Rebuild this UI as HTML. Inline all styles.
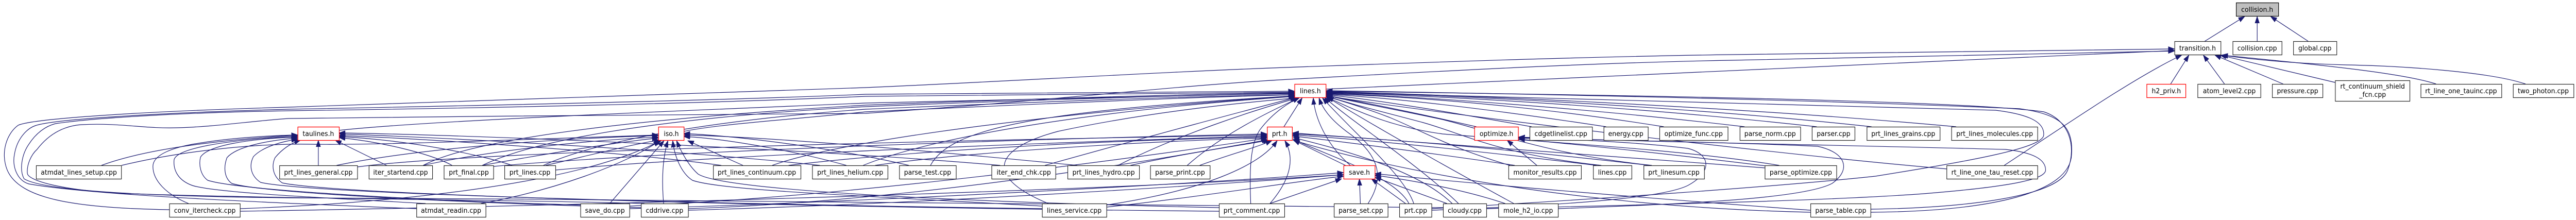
<!DOCTYPE html>
<html><head><meta charset="utf-8"><style>
html,body{margin:0;padding:0;background:#fff;overflow:hidden;width:100%;height:100%;}
svg{display:block;position:fixed;left:0;top:0;width:100vw;height:100vh;}
text{font-family:"DejaVu Sans","Liberation Sans",sans-serif;font-size:13.33px;fill:#000;text-anchor:middle;}
.n{fill:#fff;stroke:#222;stroke-width:1.2;}
.r{fill:#fff;stroke:#ff0000;stroke-width:1.3;}
.g{fill:#bfbfbf;stroke:#000;stroke-width:1.2;}
</style></head><body>
<svg viewBox="0 0 5357 427" preserveAspectRatio="none" xmlns="http://www.w3.org/2000/svg">
<defs><marker id="a" viewBox="0 0 13 10" markerWidth="13" markerHeight="10" refX="13" refY="5" orient="auto" markerUnits="userSpaceOnUse"><path d="M0,0.4 L13,5 L0,9.6 Z" fill="#191970" stroke="#191970" stroke-width="0.8"/></marker></defs>
<rect width="5357" height="427" fill="#fff"/>
<g fill="none" stroke="#191970" stroke-width="1.2" marker-end="url(#a)">
<path d="M4585,80 L4668,32"/>
<path d="M4694,80 L4694,32"/>
<path d="M4800,80 L4722,32"/>
<path d="M4514,163 L4552,107"/>
<path d="M4626,163 L4582,107"/>
<path d="M4748,163 L4606,107"/>
<path d="M4856,160 L4617,107"/>
<path d="M5066,163 C5000,143 4850,128 4620,107"/>
<path d="M5252,163 C5180,140 5000,128 4880,126 C4760,123 4680,115 4620,107"/>
<path d="M4168,321 C4300,240 4440,150 4537,107"/>
<path d="M2757,173 L4522,98"/>
<path d="M352,407 C150,404 40,385 15,330 C0,295 15,258 38,243 C70,230 300,216 600,208 C1100,195 1500,182 1800,170 C2100,158 2400,140 2700,130 C3000,120 3300,110 3600,106 C4000,101 4300,97 4522,95"/>
<path d="M1340,395 C1100,388 500,385 250,375 C120,368 60,350 57,337 C55,320 65,300 77,290 C100,262 130,245 168,242 C250,238 300,250 368,248 C450,246 520,235 600,230 C1000,225 1500,222 1800,220 C2200,195 2450,165 2700,153 C3000,138 3300,122 3600,117 C4000,108 4300,101 4522,99"/>
<path d="M866,405 C600,395 200,380 60,357 C35,350 25,322 30,300 C35,270 55,250 73,244 C110,232 300,220 600,212 C1000,205 1500,195 1800,183 C2200,180 2500,178 2692,177"/>
<path d="M3001,403 C2500,394 1500,388 600,384 C300,381 90,370 50,347 C40,330 45,300 60,280 C75,258 95,245 115,240 C200,228 400,218 600,215 C1000,210 1500,200 1800,187 C2200,182 2500,180 2692,179"/>
<path d="M705,253 C900,233 1500,212 1800,200 C2200,190 2500,183 2692,181"/>
<path d="M1422,255 C1500,240 1650,232 1800,217 C2200,200 2500,188 2692,184"/>
<path d="M1003,321 C1150,255 1500,222 1800,207 C2200,192 2500,184 2692,182"/>
<path d="M1130,321 C1250,270 1500,232 1800,212 C2200,196 2500,186 2693,184"/>
<path d="M880,321 C1000,262 1400,226 1800,204 C2200,190 2500,182 2692,180"/>
<path d="M1606,321 C1750,272 2200,218 2693,186"/>
<path d="M1795,321 C1950,262 2300,212 2694,187"/>
<path d="M1935,321 C1975,250 2150,215 2694,186"/>
<path d="M2173,321 C2400,262 2600,212 2696,189"/>
<path d="M2325,321 C2450,262 2600,216 2699,190"/>
<path d="M2469,321 C2540,262 2640,216 2702,190"/>
<path d="M2180,395 C2050,345 2060,290 2200,255 C2400,215 2600,198 2697,190"/>
<path d="M2601,395 C2598,330 2600,280 2620,252 C2650,215 2685,197 2702,190"/>
<path d="M2670,246 L2708,190"/>
<path d="M2808,321 C2760,282 2735,232 2731,190"/>
<path d="M2845,395 C2880,345 2870,300 2800,255 C2765,230 2750,210 2743,190"/>
<path d="M2940,395 C2920,340 2820,262 2750,190"/>
<path d="M3033,395 C2950,320 2820,242 2754,189"/>
<path d="M3148,395 C3000,320 2850,240 2757,187"/>
<path d="M3140,321 C3010,285 2960,255 2890,228 C2840,210 2795,197 2758,187"/>
<path d="M3330,321 C3120,300 3050,262 2960,238 C2880,218 2800,200 2758,186"/>
<path d="M3435,321 C3220,300 3100,255 3000,232 C2900,212 2800,195 2758,185"/>
<path d="M3700,321 C3500,290 3200,275 3000,260 C2880,245 2800,205 2760,189"/>
<path d="M3070,246 C2950,220 2820,196 2758,185"/>
<path d="M3185,246 C3000,215 2850,192 2758,184"/>
<path d="M3340,246 C3100,212 2900,190 2758,183"/>
<path d="M3460,246 C3200,207 2950,188 2758,182"/>
<path d="M3628,246 C3300,210 2950,187 2758,181"/>
<path d="M3778,246 C3400,207 3000,186 2758,180"/>
<path d="M3892,246 C3500,206 3000,184 2758,179"/>
<path d="M4068,246 C3600,206 3000,183 2758,178"/>
<path d="M4050,328 C3700,300 3000,222 2758,186"/>
<path d="M3890,406 C4100,403 4280,380 4300,330 C4320,280 4300,232 4250,217 C4100,197 3500,186 2758,177"/>
<path d="M3890,412 C4150,410 4305,372 4308,300 C4312,245 4285,222 4200,211 C3800,195 3300,184 2758,176"/>
<path d="M2977,405 C3300,388 3700,362 3900,342 C4100,312 4250,287 4250,262 C4252,237 4220,222 4150,214 C3800,201 3300,189 2758,179"/>
<path d="M211,321 C300,290 450,272 619,262"/>
<path d="M253,321 C400,288 560,278 650,280 C800,282 1100,270 1369,262"/>
<path d="M662,321 L662,272"/>
<path d="M804,321 L697,272"/>
<path d="M940,321 C900,300 800,276 705,267"/>
<path d="M1065,321 C1000,300 850,272 705,265"/>
<path d="M1500,321 C1300,295 900,270 705,263"/>
<path d="M1705,321 C1400,290 900,266 705,260"/>
<path d="M2080,321 C1700,290 1000,262 705,258"/>
<path d="M392,395 C345,377 318,350 318,323 C318,300 360,285 420,277 C480,268 560,263 619,262"/>
<path d="M885,395 C700,385 450,375 400,360 C370,350 360,330 362,310 C367,290 450,273 619,264"/>
<path d="M1215,398 C900,390 500,370 432,350 C417,340 413,320 417,305 C432,282 520,269 619,266"/>
<path d="M1333,403 C1000,395 550,376 482,356 C467,346 464,326 472,306 C492,284 560,272 619,268"/>
<path d="M2167,405 C1500,396 650,377 542,354 C522,342 517,322 527,304 C547,284 590,274 619,270"/>
<path d="M2535,410 C1600,402 700,378 587,355 C567,342 564,322 572,306 C587,289 605,278 625,272"/>
<path d="M700,321 C850,292 1100,271 1369,263"/>
<path d="M880,321 C1000,296 1200,273 1369,266"/>
<path d="M1003,321 C1150,296 1300,274 1369,268"/>
<path d="M1135,321 C1250,296 1330,277 1373,272"/>
<path d="M1268,395 L1381,273"/>
<path d="M1380,395 C1375,340 1380,300 1389,273"/>
<path d="M1000,395 C1150,370 1300,320 1372,273"/>
<path d="M499,405 C800,395 1200,360 1376,272"/>
<path d="M1545,321 L1430,273"/>
<path d="M2167,400 C1800,380 1500,370 1440,350 C1415,335 1402,300 1399,273"/>
<path d="M2535,403 C1900,390 1500,366 1452,338 C1432,322 1415,292 1407,273"/>
<path d="M1760,321 C1650,292 1500,268 1422,265"/>
<path d="M2240,321 C1900,290 1600,266 1422,262"/>
<path d="M1890,321 C1750,290 1550,265 1422,259"/>
<path d="M743,324 C1000,292 2000,272 2635,262"/>
<path d="M1026,323 C1400,292 2200,268 2635,260"/>
<path d="M1155,330 C1500,300 2200,276 2635,264"/>
<path d="M1640,321 C1900,292 2300,272 2635,266"/>
<path d="M1820,321 C2000,296 2400,273 2635,268"/>
<path d="M2351,321 C2450,300 2580,282 2640,272"/>
<path d="M2495,321 C2550,302 2610,287 2645,273"/>
<path d="M2300,398 C2500,370 2620,322 2656,273"/>
<path d="M2641,395 C2690,342 2690,302 2672,273"/>
<path d="M2798,321 L2690,272"/>
<path d="M2930,395 C2900,342 2760,302 2689,270"/>
<path d="M3020,395 C2950,332 2800,292 2689,267"/>
<path d="M3150,321 C3000,300 2800,276 2688,264"/>
<path d="M3320,321 C3100,296 2850,271 2688,262"/>
<path d="M3430,321 C3200,296 2900,269 2688,260"/>
<path d="M3672,326 C3300,300 2900,270 2688,258"/>
<path d="M1309,400 C1800,380 2400,302 2635,268"/>
<path d="M1431,405 C1900,390 2400,312 2637,271"/>
<path d="M3765,412 C3300,402 2900,332 2689,272"/>
<path d="M1309,405 C1800,392 2500,356 2794,335"/>
<path d="M1431,408 C1900,396 2500,361 2794,339"/>
<path d="M2301,402 C2500,382 2700,351 2794,342"/>
<path d="M2641,395 L2790,347"/>
<path d="M2829,395 L2827,347"/>
<path d="M2923,395 L2852,347"/>
<path d="M3009,395 L2859,344"/>
<path d="M3130,395 C3050,370 2950,352 2859,340"/>
<path d="M3765,408 C3500,390 3100,360 2859,337"/>
<path d="M499,410 C1200,400 2300,370 2794,339"/>
<path d="M3196,321 L3134,272"/>
<path d="M3672,322 C3500,302 3300,282 3158,270"/>
<path d="M3091,405 C3400,398 3800,390 4000,376 C4200,361 4254,346 4254,330 C4254,310 4230,296 4170,290 C3800,281 3400,275 3158,266"/>
<path d="M3240,405 C3500,396 3750,386 3810,356 C3850,330 3840,296 3780,284 C3600,276 3300,271 3158,268"/>
<path d="M2977,408 C3200,400 3450,388 3510,360 C3560,335 3560,300 3510,288 C3400,275 3250,270 3158,267"/>
</g>
<g>
<rect class="g" x="4650.5" y="5.5" width="88" height="26"/><text x="4694" y="23">collision.h</text>
<rect class="n" x="4522.5" y="80.5" width="96" height="26"/><text x="4570" y="98">transition.h</text>
<rect class="n" x="4643.5" y="80.5" width="102" height="26"/><text x="4694" y="98">collision.cpp</text>
<rect class="n" x="4769.5" y="80.5" width="90" height="26"/><text x="4814" y="98">global.cpp</text>

<rect class="r" x="2692.5" y="163.5" width="65" height="26"/><text x="2725" y="181">lines.h</text>
<rect class="r" x="4464.5" y="163.5" width="81" height="26"/><text x="4505" y="181">h2_priv.h</text>
<rect class="n" x="4570.5" y="163.5" width="131" height="26"/><text x="4636" y="181">atom_level2.cpp</text>
<rect class="n" x="4725.5" y="163.5" width="105" height="26"/><text x="4778" y="181">pressure.cpp</text>
<rect class="n" x="4856.5" y="156.5" width="155" height="40"/><text x="4934" y="172">rt_continuum_shield</text><text x="4934" y="188">_fcn.cpp</text>
<rect class="n" x="5034.5" y="163.5" width="168" height="26"/><text x="5118" y="181">rt_line_one_tauinc.cpp</text>
<rect class="n" x="5226.5" y="163.5" width="126" height="26"/><text x="5289" y="181">two_photon.cpp</text>

<rect class="r" x="619.5" y="246.5" width="86" height="26"/><text x="662" y="264">taulines.h</text>
<rect class="r" x="1369.5" y="246.5" width="53" height="26"/><text x="1396" y="264">iso.h</text>
<rect class="r" x="2635.5" y="246.5" width="52" height="26"/><text x="2661" y="264">prt.h</text>
<rect class="r" x="3066.5" y="246.5" width="91" height="26"/><text x="3112" y="264">optimize.h</text>
<rect class="n" x="3181.5" y="246.5" width="130" height="26"/><text x="3246" y="264">cdgetlinelist.cpp</text>
<rect class="n" x="3335.5" y="246.5" width="92" height="26"/><text x="3381" y="264">energy.cpp</text>
<rect class="n" x="3451.5" y="246.5" width="142" height="26"/><text x="3522" y="264">optimize_func.cpp</text>
<rect class="n" x="3618.5" y="246.5" width="126" height="26"/><text x="3681" y="264">parse_norm.cpp</text>
<rect class="n" x="3768.5" y="246.5" width="89" height="26"/><text x="3813" y="264">parser.cpp</text>
<rect class="n" x="3882.5" y="246.5" width="152" height="26"/><text x="3958" y="264">prt_lines_grains.cpp</text>
<rect class="n" x="4058.5" y="246.5" width="179" height="26"/><text x="4148" y="264">prt_lines_molecules.cpp</text>

<rect class="n" x="75.5" y="321.5" width="177" height="26"/><text x="164" y="339">atmdat_lines_setup.cpp</text>
<rect class="n" x="581.5" y="321.5" width="162" height="26"/><text x="662" y="339">prt_lines_general.cpp</text>
<rect class="n" x="767.5" y="321.5" width="132" height="26"/><text x="833" y="339">iter_startend.cpp</text>
<rect class="n" x="923.5" y="321.5" width="103" height="26"/><text x="975" y="339">prt_final.cpp</text>
<rect class="n" x="1049.5" y="321.5" width="106" height="26"/><text x="1102" y="339">prt_lines.cpp</text>
<rect class="n" x="1483.5" y="321.5" width="182" height="26"/><text x="1574" y="339">prt_lines_continuum.cpp</text>
<rect class="n" x="1689.5" y="321.5" width="157" height="26"/><text x="1768" y="339">prt_lines_helium.cpp</text>
<rect class="n" x="1870.5" y="321.5" width="118" height="26"/><text x="1929" y="339">parse_test.cpp</text>
<rect class="n" x="2062.5" y="321.5" width="133" height="26"/><text x="2129" y="339">iter_end_chk.cpp</text>
<rect class="n" x="2220.5" y="321.5" width="149" height="26"/><text x="2295" y="339">prt_lines_hydro.cpp</text>
<rect class="n" x="2392.5" y="321.5" width="124" height="26"/><text x="2454" y="339">parse_print.cpp</text>
<rect class="r" x="2794.5" y="321.5" width="65" height="26"/><text x="2827" y="339">save.h</text>
<rect class="n" x="3137.5" y="321.5" width="151" height="26"/><text x="3213" y="339">monitor_results.cpp</text>
<rect class="n" x="3313.5" y="321.5" width="80" height="26"/><text x="3353" y="339">lines.cpp</text>
<rect class="n" x="3418.5" y="321.5" width="126" height="26"/><text x="3481" y="339">prt_linesum.cpp</text>
<rect class="n" x="3670.5" y="321.5" width="149" height="26"/><text x="3745" y="339">parse_optimize.cpp</text>
<rect class="n" x="4048.5" y="321.5" width="189" height="26"/><text x="4143" y="339">rt_line_one_tau_reset.cpp</text>

<rect class="n" x="352.5" y="395.5" width="147" height="26"/><text x="426" y="413">conv_itercheck.cpp</text>
<rect class="n" x="866.5" y="395.5" width="144" height="26"/><text x="938" y="413">atmdat_readin.cpp</text>
<rect class="n" x="1207.5" y="395.5" width="102" height="26"/><text x="1258" y="413">save_do.cpp</text>
<rect class="n" x="1333.5" y="395.5" width="98" height="26"/><text x="1382" y="413">cddrive.cpp</text>
<rect class="n" x="2167.5" y="395.5" width="134" height="26"/><text x="2234" y="413">lines_service.cpp</text>
<rect class="n" x="2535.5" y="395.5" width="136" height="26"/><text x="2603" y="413">prt_comment.cpp</text>
<rect class="n" x="2774.5" y="395.5" width="112" height="26"/><text x="2830" y="413">parse_set.cpp</text>
<rect class="n" x="2910.5" y="395.5" width="67" height="26"/><text x="2944" y="413">prt.cpp</text>
<rect class="n" x="3001.5" y="395.5" width="90" height="26"/><text x="3046" y="413">cloudy.cpp</text>
<rect class="n" x="3116.5" y="395.5" width="124" height="26"/><text x="3178" y="413">mole_h2_io.cpp</text>
<rect class="n" x="3765.5" y="395.5" width="125" height="26"/><text x="3828" y="413">parse_table.cpp</text>
</g>
</svg>
</body></html>
